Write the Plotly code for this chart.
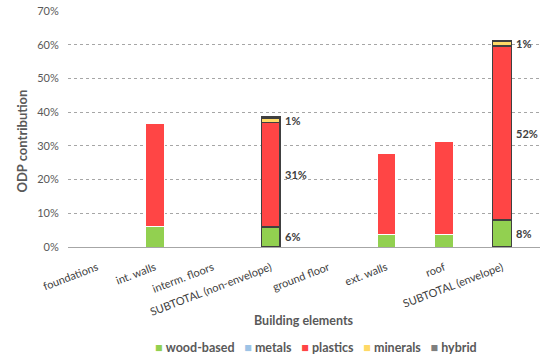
import plotly.graph_objects as go

# Building elements on the x axis
categories = [
    "foundations", "int. walls", "interm. floors", "SUBTOTAL (non-envelope)",
    "ground floor", "ext. walls", "roof", "SUBTOTAL (envelope)",
]

# ODP contribution per material group (fraction of total)
wood_based = [0.000, 0.060, 0.000, 0.060, 0.000, 0.038, 0.036, 0.080]
metals     = [0.000, 0.000, 0.000, 0.000, 0.000, 0.000, 0.000, 0.000]
plastics   = [0.000, 0.307, 0.000, 0.310, 0.000, 0.240, 0.276, 0.516]
minerals   = [0.001, 0.003, 0.000, 0.013, 0.001, 0.001, 0.001, 0.013]
hybrid     = [0.000, 0.000, 0.000, 0.004, 0.000, 0.000, 0.000, 0.004]

series = [
    ("wood-based", wood_based, "#92D050"),
    ("metals", metals, "#9DC3E6"),
    ("plastics", plastics, "#FF4545"),
    ("minerals", minerals, "#FFD966"),
    ("hybrid", hybrid, "#595959"),
]
legend_swatch = {"hybrid": "#7F7F7F"}

subtotal = [c.startswith("SUBTOTAL") for c in categories]
edge_colors = ["#404040" if s else "#FFFFFF" for s in subtotal]
edge_widths = [1.5 if s else 1.0 for s in subtotal]

FONT = "Lato, 'Open Sans', sans-serif"
GREY = "#595959"

fig = go.Figure()
for name, vals, color in series:
    fig.add_trace(go.Bar(
        x=categories, y=vals, name=name,
        marker=dict(color=color, line=dict(color=edge_colors, width=edge_widths)),
        hoverinfo="skip", showlegend=False,
    ))

# value labels beside the subtotal bars, centred on each segment
annotations = []
for i, cat in enumerate(categories):
    if not subtotal[i]:
        continue
    base = 0.0
    for name, vals, _ in series:
        v = vals[i]
        if name in ("wood-based", "plastics", "minerals") and v > 0:
            annotations.append(dict(
                x=cat, y=base + v / 2, xref="x", yref="y",
                text=f"<b>{v:.0%}</b>", showarrow=False,
                xanchor="left", yanchor="middle", xshift=12,
                font=dict(family=FONT, size=11, color="#404040"),
            ))
        base += v

# compact legend row below the axis title
legend_text = "   ".join(
    f"<span style='color:{legend_swatch.get(name, color)}'>■</span> <b>{name}</b>"
    for name, _, color in series
)
annotations.append(dict(
    x=0.526, y=-0.425, xref="paper", yref="paper",
    text=legend_text, showarrow=False, xanchor="center", yanchor="middle",
    font=dict(family=FONT, size=12.5, color=GREY),
))

# axis titles
annotations.append(dict(
    x=0.5, y=-0.31, xref="paper", yref="paper",
    text="<b>Building elements</b>", showarrow=False,
    xanchor="center", yanchor="middle",
    font=dict(family=FONT, size=12.5, color=GREY),
))
annotations.append(dict(
    x=-0.098, y=0.45, xref="paper", yref="paper",
    text="<b>ODP contribution</b>", showarrow=False, textangle=-90,
    xanchor="center", yanchor="middle",
    font=dict(family=FONT, size=13, color=GREY),
))

fig.update_layout(
    width=548, height=356,
    margin=dict(l=68, r=8, t=11, b=109),
    barmode="stack", bargap=0.68,
    plot_bgcolor="white", paper_bgcolor="white",
    font=dict(family=FONT, size=11, color=GREY),
    annotations=annotations,
    showlegend=False,
)
fig.update_yaxes(
    range=[0, 0.7], dtick=0.1, tickformat=".0%",
    showgrid=True, gridcolor="#A6A6A6", griddash="dot", gridwidth=1,
    zeroline=False, ticks="outside", ticklen=6, tickcolor="white",
    automargin=False,
    tickfont=dict(family=FONT, size=11, color=GREY),
)
fig.update_xaxes(
    tickangle=-21, showline=True, linecolor="#A6A6A6", linewidth=1,
    showgrid=False, ticks="outside", ticklen=9, tickcolor="white",
    automargin=False,
    tickfont=dict(family=FONT, size=11, color="#404040"),
)

fig.write_html("out.html")
